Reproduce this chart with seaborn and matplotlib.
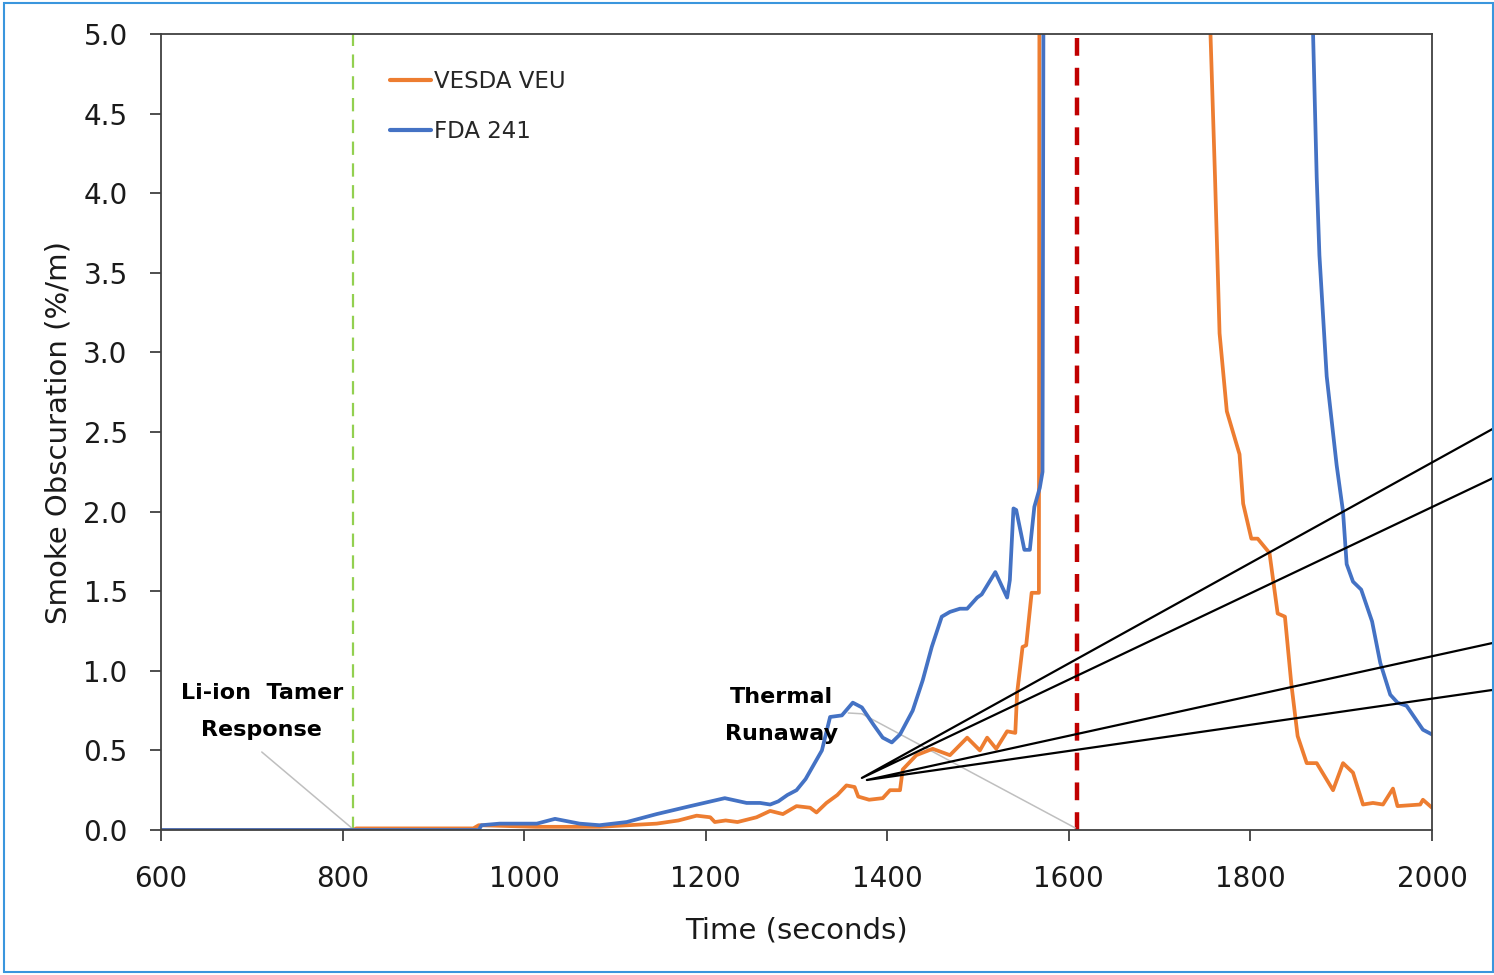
import numpy as np
import pandas as pd
import matplotlib
matplotlib.use("Agg")
import matplotlib.pyplot as plt
import seaborn as sns
from matplotlib.patches import Rectangle

# ---------------- data ----------------
vesda_t = [600, 812, 815, 944, 950, 1013, 1083, 1146, 1170, 1190, 1205, 1210, 1222, 1235,
           1256, 1271, 1285, 1300, 1315, 1322, 1333, 1345, 1355, 1364, 1368, 1380, 1395,
           1403, 1414, 1417, 1432, 1450, 1469, 1488, 1502, 1510, 1520, 1532, 1541, 1543,
           1549, 1553, 1559, 1567, 1568, 1750, 1756, 1761, 1766, 1774, 1788, 1792, 1801,
           1808, 1821, 1830, 1838, 1845, 1852, 1862, 1873, 1891, 1902, 1913, 1924, 1935,
           1946, 1957, 1962, 1987, 1990, 2000]
vesda_v = [0.0, 0.0, 0.01, 0.01, 0.03, 0.02, 0.02, 0.04, 0.06, 0.09, 0.08, 0.05, 0.06, 0.05,
           0.08, 0.12, 0.10, 0.15, 0.14, 0.11, 0.17, 0.22, 0.28, 0.27, 0.21, 0.19, 0.20,
           0.25, 0.25, 0.38, 0.47, 0.51, 0.47, 0.58, 0.50, 0.58, 0.51, 0.62, 0.61, 0.86,
           1.15, 1.16, 1.49, 1.49, 8.0, 8.0, 5.0, 4.10, 3.12, 2.63, 2.36, 2.05, 1.83,
           1.83, 1.74, 1.36, 1.34, 0.92, 0.59, 0.42, 0.42, 0.25, 0.42, 0.36, 0.16, 0.17,
           0.16, 0.26, 0.15, 0.16, 0.19, 0.14]

fda_t = [600, 950, 953, 973, 1014, 1034, 1061, 1083, 1113, 1146, 1183, 1221, 1245, 1260,
         1271, 1280, 1290, 1300, 1310, 1318, 1328, 1337, 1350, 1362, 1372, 1385, 1395,
         1405, 1414, 1428, 1439, 1449, 1460, 1469, 1480, 1488, 1499, 1504, 1519, 1532,
         1535, 1539, 1542, 1551, 1557, 1562, 1568, 1571, 1573, 1865, 1869, 1873, 1876,
         1884, 1895, 1902, 1906, 1913, 1922, 1934, 1943, 1954, 1962, 1972, 1990, 2000]
fda_v = [0.0, 0.0, 0.03, 0.04, 0.04, 0.07, 0.04, 0.03, 0.05, 0.10, 0.15, 0.20, 0.17, 0.17,
         0.16, 0.18, 0.22, 0.25, 0.32, 0.40, 0.50, 0.71, 0.72, 0.80, 0.77, 0.66, 0.58,
         0.55, 0.60, 0.75, 0.94, 1.15, 1.34, 1.37, 1.39, 1.39, 1.46, 1.48, 1.62, 1.46,
         1.57, 2.02, 2.01, 1.76, 1.76, 2.03, 2.15, 2.25, 8.0, 8.0, 5.0, 4.10, 3.61,
         2.85, 2.29, 2.00, 1.67, 1.56, 1.51, 1.31, 1.05, 0.85, 0.80, 0.78, 0.63, 0.60]

series_names = ["VESDA VEU", "FDA 241"]
series_colors = ["#ED7D31", "#4472C4"]

x_ticks = [600, 800, 1000, 1200, 1400, 1600, 1800, 2000]
y_ticks = [0.0, 0.5, 1.0, 1.5, 2.0, 2.5, 3.0, 3.5, 4.0, 4.5, 5.0]

tamer_time = 812
runaway_time = 1609

# annotation geometry (data coordinates)
tamer_text_xy = (711, 0.745)
tamer_leader_x = [711, 810]
tamer_leader_y = [0.49, 0.013]
runaway_text_xy = (1283, 0.72)
runaway_leader_x = [1357, 1372, 1607]
runaway_leader_y = [0.735, 0.73, 0.013]

wedge1_x = [2067, 1372, 2067]
wedge1_y = [2.52, 0.327, 2.21]
wedge2_x = [2067, 1377.5, 2067]
wedge2_y = [1.175, 0.314, 0.88]

# ---------------- build ----------------
df = pd.concat([
    pd.DataFrame({"Time": vesda_t, "Obs": vesda_v, "Series": series_names[0]}),
    pd.DataFrame({"Time": fda_t, "Obs": fda_v, "Series": series_names[1]}),
], ignore_index=True)

sns.set_style("ticks")
plt.rcParams["font.family"] = ["DejaVu Sans"]

fig = plt.figure(figsize=(14.94, 9.75), dpi=100)
ax = fig.add_axes([161 / 1494, 1 - 830 / 975, (1432 - 161) / 1494, (830 - 34) / 975])

sns.lineplot(data=df, x="Time", y="Obs", hue="Series", hue_order=series_names,
             palette=series_colors, estimator=None, sort=False, linewidth=2.7, ax=ax)

ax.axvline(tamer_time, color="#92D050", linewidth=1.6, linestyle=(0, (6.0, 3.8)), zorder=1)
ax.axvline(runaway_time, color="#C00000", linewidth=3.2, linestyle=(0, (4.0, 2.7)), zorder=1)

ax.set_xlim(600, 2000)
ax.set_ylim(0, 5)
ax.set_xticks(x_ticks)
ax.set_yticks(y_ticks)
ax.set_yticklabels([f"{v:.1f}" for v in y_ticks])

for s in ax.spines.values():
    s.set_color("#404040")
    s.set_linewidth(1.3)
    s.set_visible(True)
ax.tick_params(axis="both", direction="out", length=8, width=1.3, color="#404040",
               labelsize=20, labelcolor="#1a1a1a")
ax.tick_params(axis="y", pad=16)
ax.tick_params(axis="x", pad=17)

ax.set_xlabel("Time (seconds)", fontsize=21, labelpad=17, color="#1a1a1a")
ax.set_ylabel("Smoke Obscuration (%/m)", fontsize=21, labelpad=8, color="#1a1a1a")

leg = ax.legend(loc="upper left", bbox_to_anchor=(0.180, 0.955), frameon=False,
                fontsize=16.5, handlelength=1.8, handletextpad=0.15, labelspacing=1.2,
                borderaxespad=0, borderpad=0)
for h in leg.get_lines():
    h.set_linewidth(3)

# annotations
ax.plot(tamer_leader_x, tamer_leader_y, color="#BFBFBF", linewidth=1.1, zorder=1)
ax.plot(runaway_leader_x, runaway_leader_y, color="#BFBFBF", linewidth=1.1, zorder=1)
ax.text(*tamer_text_xy, "Li-ion  Tamer\nResponse", ha="center", va="center",
        fontsize=16, fontweight="bold", linespacing=2.05, color="black")
ax.text(*runaway_text_xy, "Thermal\nRunaway", ha="center", va="center",
        fontsize=16, fontweight="bold", linespacing=2.05, color="black")

# black wedge callouts extending beyond the axes
ax.plot(wedge1_x, wedge1_y, color="black", linewidth=1.6, clip_on=False, zorder=5)
ax.plot(wedge2_x, wedge2_y, color="black", linewidth=1.6, clip_on=False, zorder=5)

# blue frame around the figure
fig.patches.append(Rectangle((4 / 1494, 3 / 975), 1489 / 1494, 969 / 975,
                             transform=fig.transFigure, fill=False,
                             edgecolor="#3A96DD", linewidth=1.5, zorder=10))

fig.savefig("out.png", dpi=100)
